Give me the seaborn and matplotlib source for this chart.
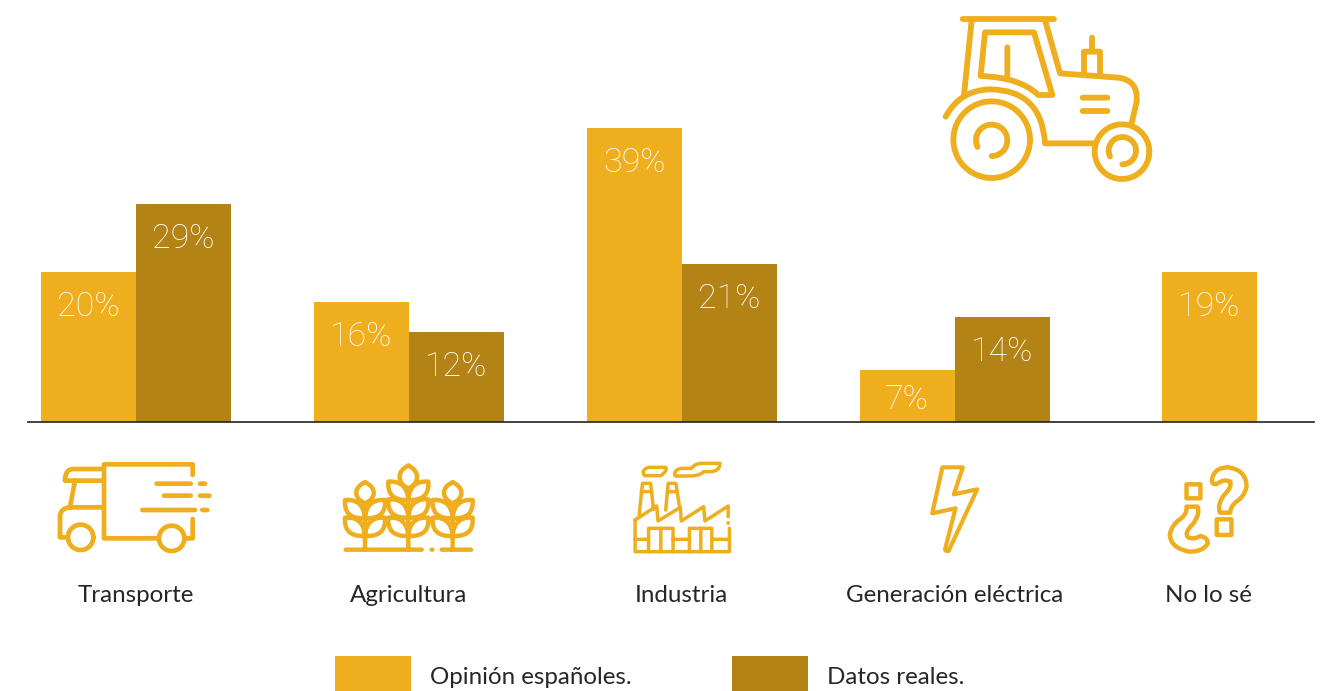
import re
import numpy as np
import pandas as pd
import matplotlib
matplotlib.use("Agg")
import matplotlib.pyplot as plt
from matplotlib.path import Path
from matplotlib.patches import PathPatch
import seaborn as sns

# ---------- data ----------
categories = ["Transporte", "Agricultura", "Industria", "Generación eléctrica", "No lo sé"]
opinion = [20, 16, 39.2, 6.9, 20]          # bar heights as drawn
reales = [29, 12, 21.1, 14, np.nan]
opinion_labels = ["20%", "16%", "39%", "7%", "19%"]
reales_labels = ["29%", "12%", "21%", "14%", ""]
series_names = ["Opinión españoles.", "Datos reales."]

# ---------- style ----------
W, H = 1329, 691
C1, C2 = "#EFAE1E", "#B38316"
TXT = "#262626"
FONT = ["Lato", "DejaVu Sans"]
sns.set_theme(style="white")
plt.rcParams["font.family"] = FONT

fig = plt.figure(figsize=(W / 100, H / 100), dpi=100, facecolor="white")

# main axes: pixels 28..1314 horizontally, baseline at y=422
ax = fig.add_axes([28 / W, 1 - 422 / H, (1314 - 28) / W, 422 / H])
df = pd.DataFrame({
    "cat": categories * 2,
    "serie": [series_names[0]] * 5 + [series_names[1]] * 5,
    "val": opinion + reales,
})
sns.barplot(data=df, x="cat", y="val", hue="serie", order=categories, hue_order=series_names,
            palette=[C1, C2], width=190 / 273, gap=0, saturation=1, ax=ax, linewidth=0)

unit = 273.0
x0 = (135.6 - 28) / unit
ax.set_xlim(-x0, -x0 + (1314 - 28) / unit)
ax.set_ylim(0, 422 / 7.5)
ax.patch.set_alpha(0)

# "No lo sé" stands alone: shift it next to the others' rhythm
shift = (1161 - 1132) / unit
cont1, cont2 = ax.containers[0], ax.containers[1]
cont1[4].set_x(cont1[4].get_x() + shift)

for cont, labs in ((cont1, opinion_labels), (cont2, reales_labels)):
    for bar, lab in zip(cont, labs):
        if not lab:
            continue
        off = -30 if lab == "7%" else -35
        ax.annotate(lab, (bar.get_x() + bar.get_width() / 2, bar.get_height()),
                    xytext=(0, off), textcoords="offset pixels", ha="center", va="center",
                    color="white", fontsize=24.5, fontweight="light", family=["Roboto", "DejaVu Sans"])

tick_pos = [0, 1, 2, 3, 3 + (1208 - 954) / unit]
ax.set_xticks(tick_pos)
ax.set_xticklabels(categories, fontsize=17.4, color=TXT)
ax.tick_params(axis="x", length=0, pad=117)
ax.set_xlabel("")
ax.set_ylabel("")
ax.set_yticks([])
for s in ("top", "left", "right"):
    ax.spines[s].set_visible(False)
ax.spines["bottom"].set_color("#222222")
ax.spines["bottom"].set_linewidth(1.2)

# legend
handles, labels = ax.get_legend_handles_labels()
ax.get_legend().remove()
leg = fig.legend(handles, labels, ncol=2, loc="lower left", bbox_to_anchor=(335 / W, -3 / H),
                 frameon=False, fontsize=17.4, labelcolor=TXT, borderpad=0, borderaxespad=0,
                 handlelength=3.14, handleheight=1.85, handletextpad=0.8, columnspacing=4.14)
for h in leg.legend_handles:
    h.set_y(h.get_y() + 3 * 0.72)

# ---------- icons (pixel overlay) ----------
ov = fig.add_axes([0, 0, 1, 1], zorder=5)
ov.set_xlim(0, W)
ov.set_ylim(H, 0)
ov.axis("off")


def parse(d):
    toks = re.findall(r"[MLQCAZ]|-?\d+\.?\d*", d)
    v, c, i = [], [], 0
    def num(n):
        nonlocal i
        out = [float(t) for t in toks[i:i + n]]
        i += n
        return out
    while i < len(toks):
        op = toks[i]
        i += 1
        if op == "M":
            v.append(num(2)); c.append(Path.MOVETO)
        elif op == "L":
            v.append(num(2)); c.append(Path.LINETO)
        elif op == "Q":
            a = num(4)
            v += [a[:2], a[2:]]; c += [Path.CURVE3] * 2
        elif op == "C":
            a = num(6)
            v += [a[:2], a[2:4], a[4:]]; c += [Path.CURVE4] * 3
        elif op == "A":  # cx cy r t1 t2, screen angles
            cx, cy, r, t1, t2 = num(5)
            ts = np.radians(np.linspace(t1, t2, 60))
            for k, t in enumerate(ts):
                v.append([cx + r * np.cos(t), cy + r * np.sin(t)])
                c.append(Path.MOVETO if k == 0 else Path.LINETO)
        elif op == "Z":
            v.append(v[-1]); c.append(Path.CLOSEPOLY)
    return np.array(v), c


def icon(d, ox, oy, sx, sy, lw):
    v, c = parse(d)
    v = v / [sx, sy] + [ox, oy]
    ov.add_patch(PathPatch(Path(v, c), fc="none", ec=C1, lw=lw, capstyle="round", joinstyle="round"))


tractor = """M 98 57 L 372 57 M 125 60 L 102 285 M 345 60 L 390 220 L 565 233 Q 625 240 620 305 L 605 370
M 165 97 L 312 97 L 367 285 L 325 285 Q 270 232 152 228 Z M 232 142 L 232 225
M 47 350 Q 90 270 180 268 Q 335 270 345 430 L 495 430
A 185 419 115 0 360 A 185 421 47 155 450 A 576 455 82 0 360 A 577 452 41 155 450
M 486 113 L 486 152 M 462 215 L 462 155 L 510 155 L 510 220 M 458 293 L 532 293 M 458 333 L 532 333"""
icon(tractor, 930, 0, 3, 3, 4.2)

truck = """M 458 75 L 458 43 L 192 43 L 192 265 L 355 265 M 458 207 L 458 265 L 437 265
M 190 57 L 100 57 Q 75 57 75 92 L 190 92 M 105 92 L 90 172 L 190 172 M 90 172 Q 60 175 60 200 L 60 262 L 82 262
A 122 262 38 0 360 A 395 265 38 0 360
M 350 101 L 452 101 M 480 101 L 495 101 M 372 137 L 452 137 M 480 137 L 508 137 M 307 180 L 465 180 M 487 180 L 502 180"""
icon(truck, 40, 450, 3, 3, 3.4)


def grain(cx, y0):
    out = ""
    for s in (-1, 1):
        out += (f"M {cx} {y0} C {cx + s * 50} {y0 + 2} {cx + s * 62} {y0 - 22} {cx + s * 60} {y0 - 55} "
                f"C {cx + s * 25} {y0 - 58} {cx + s * 2} {y0 - 40} {cx} {y0} ")
    return out


def tip(cx, y0, y1):
    return (f"M {cx} {y0} C {cx + 35} {y0 + 15} {cx + 35} {y1 - 15} {cx} {y1} "
            f"C {cx - 35} {y1 - 15} {cx - 35} {y0 + 15} {cx} {y0} ")


wheat = "M 917 299 L 1145 299 M 1175 299 L 1177 299 M 1205 299 L 1293 299 "
wheat += tip(975, 97, 160) + grain(975, 205) + grain(975, 258) + "M 975 160 L 975 299 "
wheat += tip(1105, 47, 115) + grain(1105, 150) + grain(1105, 203) + grain(1105, 258) + "M 1105 115 L 1105 299 "
wheat += tip(1238, 97, 160) + grain(1238, 205) + grain(1238, 258) + "M 1238 160 L 1238 299 "
icon(wheat, 40, 450, 3, 3, 3.2)

factory = """M 37 210 L 37 305 L 268 305 L 268 235 M 265 218 L 265 220
M 37 210 L 90 168 L 93 213 L 148 172 L 150 213 L 205 170 L 208 213 L 265 168 L 265 200
M 37 268 L 70 268 M 130 268 L 170 268 M 225 268 L 268 268
M 70 305 L 70 235 L 130 235 L 130 305 M 100 235 L 100 305
M 170 305 L 170 235 L 225 235 L 225 305 M 198 235 L 198 305
M 47 195 L 55 100 L 75 100 L 82 178 M 52 125 L 78 125
M 112 180 L 118 100 L 137 100 L 145 165 M 116 125 L 140 125
M 70 52 L 112 52 Q 118 60 100 77 L 60 77 Q 50 60 70 52 Z
M 150 55 L 175 55 Q 185 40 200 40 L 245 40 Q 245 65 220 65 L 205 65 Q 195 78 170 78 L 135 78 Q 130 60 150 55 Z"""
icon(factory, 620, 450, 2.45, 3, 2.5)

bolt = "M 790 52 L 840 52 L 818 133 L 875 118 L 805 303 Q 795 305 797 295 L 822 175 L 765 190 Z"
icon(bolt, 620, 450, 2.45, 3, 3.0)

question = """M 1450 90 Q 1455 52 1490 52 Q 1535 60 1535 110 Q 1530 140 1510 155 Q 1495 170 1495 188 L 1470 188
Q 1462 165 1480 135 Q 1500 112 1495 95 Q 1480 85 1462 102 Q 1450 105 1450 90 Z
M 1462 208 L 1498 208 L 1498 255 L 1462 255 Z M 1388 103 L 1422 103 L 1422 145 L 1388 145 Z
M 1388 170 L 1415 170 Q 1422 190 1405 220 Q 1380 250 1392 262 Q 1405 270 1422 258 Q 1440 262 1440 280
Q 1430 305 1395 305 Q 1350 295 1347 255 Q 1350 225 1375 205 Q 1390 190 1388 170 Z"""
icon(question, 620, 450, 2.45, 3, 3.2)

fig.savefig("out.png", dpi=100)
